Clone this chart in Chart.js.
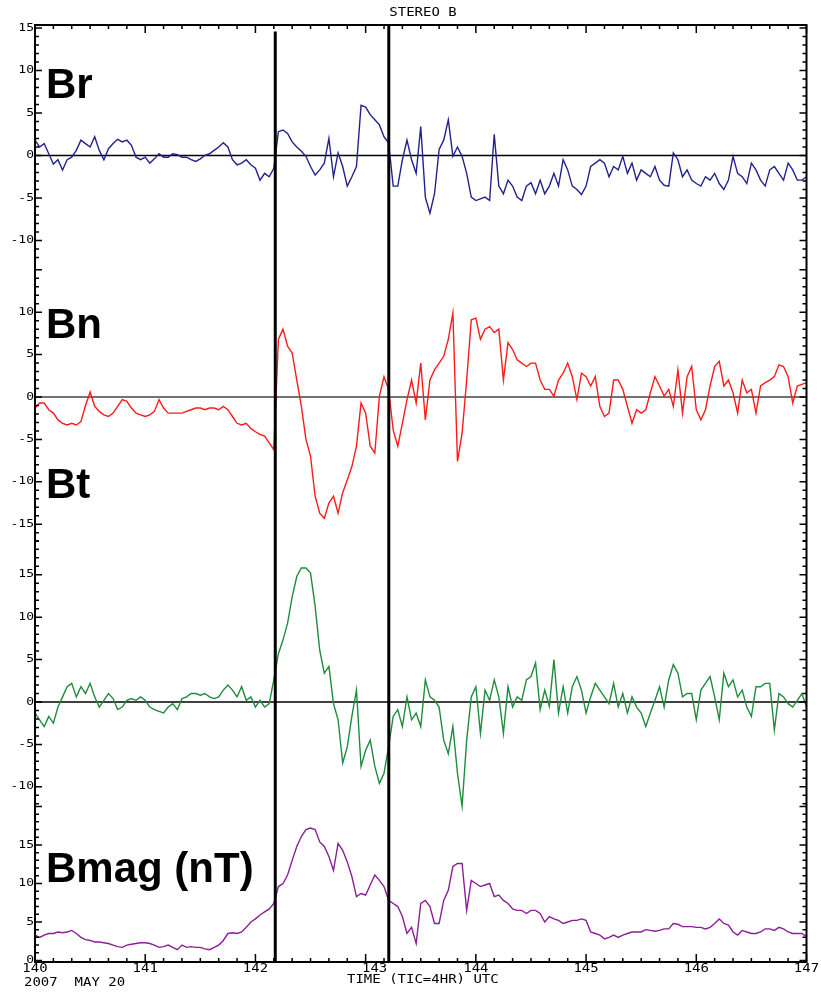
<!DOCTYPE html>
<html>
<head>
<meta charset="utf-8">
<script src="https://cdn.jsdelivr.net/npm/chart.js@4.4.0/dist/chart.umd.min.js"></script>
<style>
  html, body { margin: 0; padding: 0; background: #fff; }
  #wrap { width: 821px; height: 992px; position: relative; }
</style>
</head>
<body>
<div id="wrap"><canvas id="chart"></canvas></div>
<script>
// hourly samples, day-of-year 140.0 .. 147.0
const startDay = 140;
const stepDay = 1 / 24;

const brValues = [
  1.8, 1.0, 1.4, 0.2, -1.0, -0.5, -1.7, -0.5, -0.2, 0.6,
  1.8, 1.4, 1.0, 2.2, 0.6, -0.5, 0.8, 1.4, 1.9, 1.6,
  1.8, 1.2, -0.2, -0.5, -0.2, -0.9, -0.4, 0.2, -0.2, -0.2,
  0.2, 0.1, -0.2, -0.2, -0.5, -0.7, -0.4, 0, 0.2, 0.6,
  1.0, 1.5, 1.0, -0.5, -1.1, -0.9, -0.5, -1.1, -1.5, -2.9,
  -2.1, -2.5, -1.5, 2.8, 3.0, 2.6, 1.6, 1.0, 0.5, -0.1,
  -1.3, -2.3, -1.7, -0.9, 2.0, -2.5, 0.3, -1.3, -3.6, -2.5,
  -1.3, 5.9, 5.7, 4.8, 4.2, 3.6, 2.2, 1.5, -3.6, -3.6,
  -0.5, 1.8, -0.5, -2.1, 3.4, -4.9, -6.8, -4.5, 0.7, 1.8,
  4.2, -0.1, 1.0, -0.1, -2.1, -4.9, -5.3, -5.1, -4.9, -5.3,
  2.5, -3.6, -4.5, -2.9, -3.6, -4.9, -5.3, -3.6, -3.2, -4.5,
  -2.9, -4.5, -3.6, -2.1, -3.6, -0.5, -1.7, -3.6, -4.0, -4.6,
  -3.6, -1.3, -0.9, -0.5, -0.9, -2.5, -1.3, -1.7, -0.1, -2.1,
  -0.9, -2.9, -1.7, -2.1, -2.5, -1.3, -2.9, -3.5, -3.6, 0.3,
  -0.5, -2.5, -1.7, -2.9, -3.3, -3.6, -2.5, -2.9, -2.1, -3.3,
  -4.0, -2.9, -0.1, -2.1, -2.5, -3.3, -0.9, -1.7, -2.9, -3.6,
  -1.7, -1.3, -2.1, -2.9, -0.9, -1.7, -2.9, -2.9, -2.5
];

const bnValues = [
  -1.3, -0.7, -0.7, -1.5, -1.9, -2.7, -3.1, -3.3, -3.1, -3.3,
  -2.9, -1.0, 0.6, -1.1, -1.7, -2.1, -2.3, -1.9, -1.1, -0.3,
  -0.5, -1.3, -1.9, -2.1, -2.3, -2.1, -1.7, -0.3, -1.3, -1.9,
  -1.9, -1.9, -1.9, -1.7, -1.5, -1.3, -1.3, -1.5, -1.3, -1.3,
  -1.5, -1.1, -1.5, -2.3, -3.1, -3.3, -3.1, -3.7, -4.1, -4.4,
  -4.6, -5.4, -6.2, 6.8, 8.0, 6.0, 5.2, 2.0, -1.1, -5.0,
  -7.0, -11.7, -13.7, -14.3, -12.5, -11.7, -13.7, -11.3, -9.8, -8.2,
  -5.8, -0.7, -1.9, -5.8, -6.6, 0.1, 2.4, 0.9, -3.9, -5.8,
  -3.1, -0.3, 2.0, -0.7, 4.0, -2.7, 2.0, 3.2, 4.0, 4.8,
  6.8, 9.9, -7.6, -4.3, 2.0, 9.1, 9.3, 6.8, 8.0, 8.3,
  7.6, 8.0, 2.0, 6.4, 5.6, 4.4, 4.0, 3.6, 4.0, 4.0,
  2.0, 0.9, 0.9, 0.1, 2.0, 2.8, 4.0, 2.4, -0.3, 2.8,
  2.4, 1.3, 2.4, -1.1, -2.3, -1.9, 2.0, 2.0, 0.9, -1.1,
  -3.1, -1.5, -1.9, -1.5, 0.5, 2.4, 1.3, 0.1, 0.9, -1.1,
  3.2, -1.9, 2.4, 3.6, -1.5, -2.7, -1.5, 1.3, 3.6, 4.2,
  1.3, 2.0, 0.5, -1.9, 2.0, 0.5, 0.9, -1.9, 1.3, 1.7,
  2.0, 2.4, 3.8, 3.6, 2.4, -0.7, 1.3, 1.5, 1.7
];

const btValues = [
  -1.3, -2.1, -2.9, -1.7, -2.5, -0.6, 0.6, 1.8, 2.2, 0.6,
  1.8, 1.0, 2.2, 0.6, -0.6, 0.2, 1.0, 0.4, -0.9, -0.6,
  0.2, 0.4, 0.2, 0.6, 0.2, -0.6, -0.9, -1.1, -1.3, -0.6,
  -0.2, -0.9, 0.4, 0.6, 1.0, 1.0, 0.8, 1.0, 0.6, 0.4,
  0.6, 1.4, 2.0, 1.4, 0.6, 1.8, 0.2, 0.6, -0.6, 0.2,
  -0.6, -0.2, 2.6, 5.7, 7.3, 9.3, 12.4, 14.8, 15.8, 15.8,
  15.2, 11.3, 6.1, 3.4, 4.2, -0.2, -2.1, -7.2, -5.3, -1.7,
  1.4, -7.6, -5.7, -4.5, -7.6, -9.6, -8.4, -5.3, -1.7, -0.9,
  -2.9, 0.6, -2.1, -1.3, -2.9, 2.6, 0.6, 0.2, -0.6, -4.5,
  -6.1, -2.9, -8.4, -12.3, -4.5, 0.6, 1.8, -3.7, 1.4, 0.2,
  2.6, 0.6, -3.7, 1.8, -0.6, 0.6, 0.2, 2.6, 3.0, 4.6,
  -0.9, 1.4, -0.5, 5.0, -1.3, 1.8, -1.3, 1.8, 3.0, 1.4,
  -1.3, 0.6, 2.2, 1.4, 0.6, -0.2, 2.2, -0.6, 1.0, -1.3,
  0.6, -0.6, -1.3, -2.9, -1.3, 0.2, 1.8, -0.6, 2.6, 4.4,
  3.4, 0.6, 1.0, 1.0, -2.1, 1.4, 2.2, 3.0, 0.6, -2.1,
  3.4, 1.8, 2.6, 0.6, 1.4, -0.6, -1.7, 1.8, 1.8, 2.2,
  2.2, -3.3, 1.0, 0.6, -0.2, -0.6, 0.2, 1.0, -0.6
];

const bmagValues = [
  3.3, 3.0, 3.3, 3.5, 3.5, 3.7, 3.6, 3.7, 3.9, 3.5,
  3.0, 2.7, 2.6, 2.4, 2.4, 2.3, 2.2, 2.0, 1.8, 1.7,
  2.0, 2.1, 2.2, 2.3, 2.3, 2.2, 2.0, 1.7, 1.8, 2.0,
  1.7, 1.4, 2.0, 1.7, 1.8, 1.7, 1.7, 1.5, 1.4, 1.7,
  2.0, 2.6, 3.5, 3.6, 3.5, 3.7, 4.3, 5.0, 5.4, 5.9,
  6.3, 6.7, 7.4, 9.6, 10.0, 11.1, 13.0, 14.8, 16.1, 17.0,
  17.2, 17.0, 15.4, 14.8, 13.5, 11.7, 15.2, 14.3, 12.8, 10.9,
  8.3, 8.7, 8.5, 9.8, 11.1, 10.4, 9.6, 7.8, 7.4, 7.0,
  5.7, 3.5, 4.3, 2.2, 7.4, 7.8, 7.0, 4.8, 4.8, 7.8,
  9.1, 12.2, 12.6, 12.6, 6.5, 10.4, 10.0, 9.6, 9.8, 10.0,
  8.3, 8.5, 7.8, 7.4, 6.7, 6.5, 6.5, 6.1, 6.5, 6.5,
  6.1, 5.0, 5.7, 5.4, 5.2, 4.8, 5.0, 5.2, 5.2, 5.4,
  5.2, 3.7, 3.5, 3.3, 2.8, 3.0, 3.3, 3.0, 3.3, 3.5,
  3.7, 3.7, 3.7, 4.0, 3.9, 3.8, 3.9, 4.1, 4.1, 4.8,
  4.7, 4.4, 4.4, 4.4, 4.3, 4.3, 4.1, 4.3, 4.8, 5.4,
  4.8, 4.6, 3.7, 3.3, 3.9, 3.7, 3.5, 3.5, 3.7, 4.1,
  4.1, 3.9, 4.3, 4.1, 3.7, 3.5, 3.5, 3.5, 3.1
];

const dayTicks = [140, 141, 142, 143, 144, 145, 146, 147];
const eventDays = [142.18, 143.21];

const brTickLabels = [15, 10, 5, 0, -5, -10];
const bnTickLabels = [10, 5, 0, -5, -10, -15];
const btTickLabels = [15, 10, 5, 0, -5, -10];
const bmagTickLabels = [15, 10, 5, 0];

const panelTitles = ["Br", "Bn", "Bt", "Bmag (nT)"];

function toPoints(values) {
  return values.map((v, i) => ({ x: startDay + i * stepDay, y: v }));
}

function traceSet(values, axis, color) {
  return {
    data: toPoints(values), yAxisID: axis, borderColor: color,
    borderWidth: 1.4, pointRadius: 0, tension: 0
  };
}

function flatLine(axis, color) {
  return {
    data: [{ x: 140, y: 0 }, { x: 147, y: 0 }], yAxisID: axis,
    borderColor: color, borderWidth: 1.5, pointRadius: 0
  };
}

function eventLine(day, top) {
  return {
    data: [{ x: day, y: top }, { x: day, y: -94.9 }], yAxisID: "yBr",
    borderColor: "#000", borderWidth: 3, pointRadius: 0
  };
}

// panels share one plot area; each axis range puts its zero where the panel sits
const panels = [
  { axis: "yBr", lo: -12, hi: 15, labels: brTickLabels, title: panelTitles[0], tx: 46, ty: 98 },
  { axis: "yBn", lo: -17, hi: 15, labels: bnTickLabels, title: panelTitles[1], tx: 46, ty: 338 },
  { axis: "yBt", lo: -12, hi: 19, labels: btTickLabels, title: panelTitles[2], tx: 46, ty: 498 },
  { axis: "yBm", lo: 0, hi: 20, labels: bmagTickLabels, title: panelTitles[3], tx: 46, ty: 882 }
];

function monoText(ctx, text, x, y, align, size, squash) {
  ctx.save();
  ctx.translate(x, y);
  ctx.scale(1, squash);
  ctx.font = size + 'px "DejaVu Sans Mono"';
  ctx.textAlign = align;
  ctx.textBaseline = "middle";
  ctx.fillStyle = "#000";
  ctx.fillText(text, 0, 0);
  ctx.restore();
}

const framePlugin = {
  id: "frame",
  afterDraw(chart) {
    const ctx = chart.ctx;
    const a = chart.chartArea;
    const xs = chart.scales.x;
    ctx.save();
    ctx.strokeStyle = "#000";
    ctx.lineWidth = 2;
    ctx.strokeRect(a.left, a.top, a.right - a.left, a.bottom - a.top);

    // x ticks every 4 hours, top and bottom, pointing inward
    ctx.lineWidth = 1.5;
    for (let k = 0; k <= 42; k++) {
      const px = xs.getPixelForValue(140 + k / 6);
      const len = k % 6 === 0 ? 8 : 4;
      ctx.beginPath();
      ctx.moveTo(px, a.top); ctx.lineTo(px, a.top + len);
      ctx.moveTo(px, a.bottom); ctx.lineTo(px, a.bottom - len);
      ctx.stroke();
    }

    // y ticks and labels for each panel
    panels.forEach(p => {
      const ys = chart.scales[p.axis];
      for (let v = p.lo; v <= p.hi; v++) {
        const py = ys.getPixelForValue(v);
        const len = v % 5 === 0 ? 7 : 4;
        ctx.beginPath();
        ctx.moveTo(a.left, py); ctx.lineTo(a.left + len, py);
        ctx.moveTo(a.right, py); ctx.lineTo(a.right - len, py);
        ctx.stroke();
      }
      p.labels.forEach(v => {
        monoText(ctx, String(v), a.left - 1, ys.getPixelForValue(v), "right", 13, 0.8);
      });
      ctx.fillStyle = "#000";
      ctx.font = 'bold 42px "Liberation Sans", Arial, sans-serif';
      ctx.textAlign = "left";
      ctx.textBaseline = "alphabetic";
      ctx.fillText(p.title, p.tx, p.ty);
    });

    // x labels
    dayTicks.forEach(d => {
      const shift = d === 143 ? 9 : 0;
      monoText(ctx, String(d), xs.getPixelForValue(d) + shift, 969, "center", 14, 0.85);
    });
    monoText(ctx, "2007  MAY 20", 24, 983, "left", 14, 0.85);
    monoText(ctx, "TIME (TIC=4HR) UTC", 347, 980, "left", 14, 0.85);
    monoText(ctx, "STEREO B", 423, 13, "center", 14, 0.9);
    ctx.restore();
  }
};

const yAxis = (min, max) => ({ type: "linear", min: min, max: max, display: false });

new Chart(document.getElementById("chart"), {
  type: "line",
  data: {
    datasets: [
      eventLine(eventDays[0], 14.6),
      eventLine(eventDays[1], 15.3),
      traceSet(brValues, "yBr", "#22228c"),
      traceSet(bnValues, "yBn", "#ff1a1a"),
      traceSet(btValues, "yBt", "#1e8c3c"),
      traceSet(bmagValues, "yBm", "#8c1e96"),
      flatLine("yBr", "#000"),
      flatLine("yBn", "#444"),
      flatLine("yBt", "#000")
    ]
  },
  options: {
    responsive: true,
    maintainAspectRatio: false,
    animation: false,
    layout: { padding: { left: 35, right: 14.5, top: 25, bottom: 30 } },
    plugins: { legend: { display: false }, tooltip: { enabled: false } },
    scales: {
      x: { type: "linear", min: 140, max: 147, display: false },
      yBr: yAxis(-94.88, 15.35),
      yBn: yAxis(-66.63, 43.87),
      yBt: yAxis(-30.66, 79.83),
      yBm: yAxis(-0.2, 121.5)
    }
  },
  plugins: [framePlugin]
});
</script>
</body>
</html>
